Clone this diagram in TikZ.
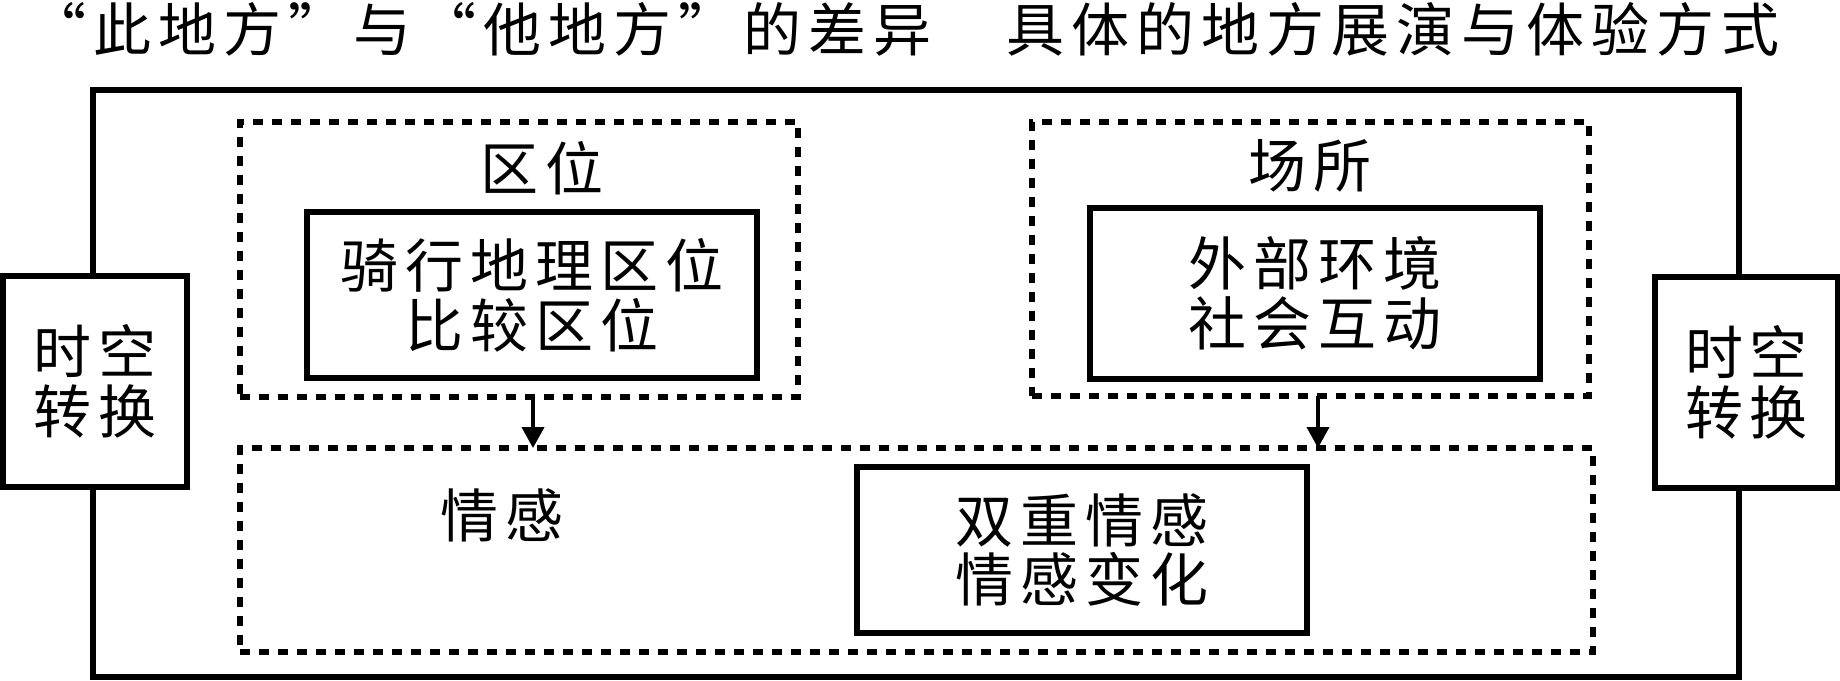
\documentclass[tikz,border=0pt]{standalone}
\usepackage{fontspec}
\setmainfont{Noto Sans CJK SC}[LetterSpace=12]
\usetikzlibrary{arrows.meta}
\newcommand\myfont{\fontsize{33pt}{34pt}\selectfont}
\begin{document}
\begin{tikzpicture}[x=0.02cm,y=-0.02cm,
  solidbox/.style={draw,line width=0.11cm,fill=white,inner sep=0pt,outer sep=0pt,font=\myfont,align=center},
  dashbox/.style={draw,line width=0.12cm,dash pattern=on 0.2cm off 0.18cm,inner sep=0pt,outer sep=0pt},
  lbl/.style={font=\myfont,inner sep=0pt},
  arr/.style={line width=0.08cm,-{Triangle[width=0.44cm,length=0.42cm]}}]
\useasboundingbox (0,0) rectangle (1840,680);
% title
\node[lbl] (t1) at (480,29) {“此地方”与“他地方”的差异};
\node[lbl] (t2) at (1393,29) {具体的地方展演与体验方式};
% outer frame
\node[draw,line width=0.11cm,inner sep=0pt,minimum width=32.92cm,minimum height=11.74cm] (outer) at (916,383.5) {};
% side boxes
\node[solidbox,minimum width=3.68cm,minimum height=4.22cm] (left) at (95,381.5) {时空\\转换};
\node[solidbox,minimum width=3.66cm,minimum height=4.22cm] (right) at (1746.5,382.5) {时空\\转换};
% dashed groups
\node[dashbox,minimum width=11.16cm,minimum height=5.5cm] (d1) at (519,259.5) {};
\node[dashbox,minimum width=11.14cm,minimum height=5.48cm] (d2) at (1310.5,259) {};
\node[dashbox,minimum width=27.06cm,minimum height=4.08cm] (d3) at (916.5,550) {};
% labels
\node[lbl] (l1) at (542,168) {区位};
\node[lbl] (l2) at (1310,166) {场所};
\node[lbl] (l3) at (502,515) {情感};
% inner boxes
\node[solidbox,minimum width=9cm,minimum height=3.32cm] (i1) at (532,295) {骑行地理区位\\比较区位};
\node[solidbox,minimum width=9cm,minimum height=3.42cm] (i2) at (1315,293.5) {外部环境\\社会互动};
\node[solidbox,minimum width=9cm,minimum height=3.32cm] (i3) at (1082,550) {双重情感\\情感变化};
% arrows
\coordinate (a1) at (533,397);
\coordinate (a2) at (1318,396);
\draw[arr] (a1) -- (a1 |- d3.north);
\draw[arr] (a2) -- (a2 |- d3.north);
\end{tikzpicture}
\end{document}
